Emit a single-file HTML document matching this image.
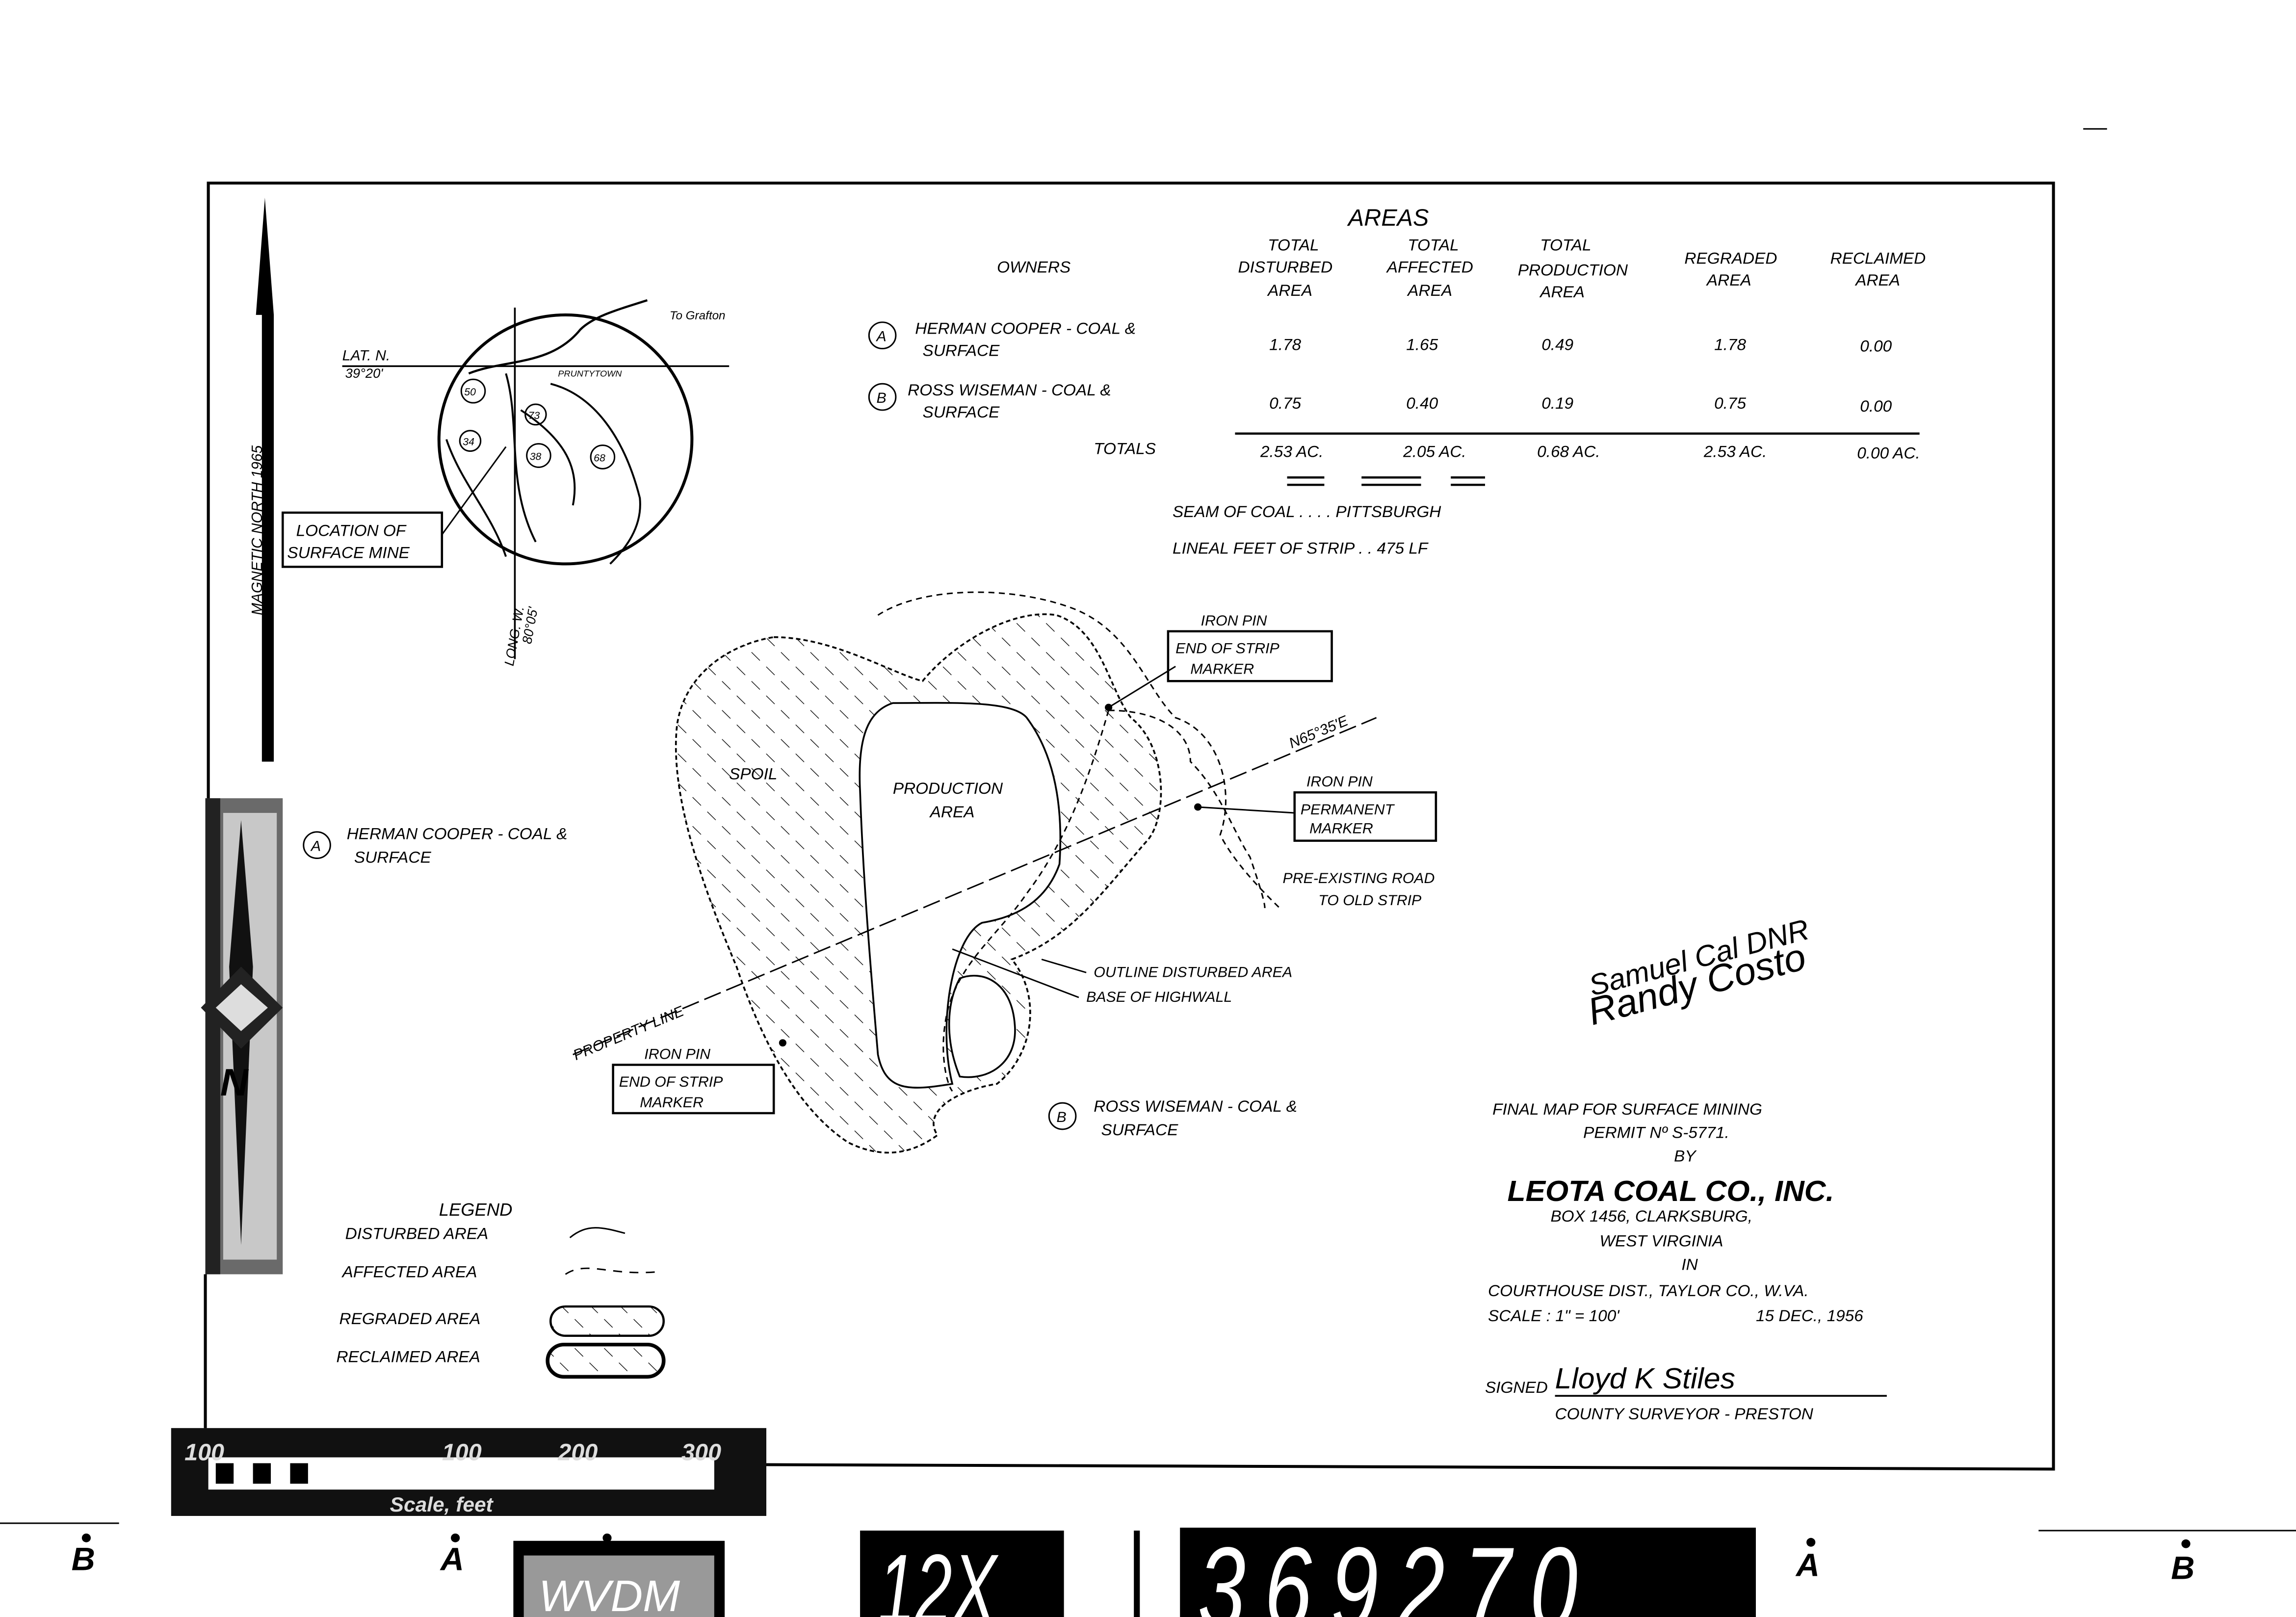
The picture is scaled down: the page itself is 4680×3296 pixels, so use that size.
<!DOCTYPE html>
<html><head><meta charset="utf-8"><style>
html,body{margin:0;padding:0;background:#fff;}
svg{display:block;}
text{font-family:"Liberation Sans",sans-serif;font-style:italic;fill:#000;}
</style></head><body>
<svg width="4680" height="3296" viewBox="0 0 1543 1104" preserveAspectRatio="none" xmlns="http://www.w3.org/2000/svg">
<defs>
<pattern id="hatch" width="14" height="14" patternUnits="userSpaceOnUse" patternTransform="rotate(-45)">
<line x1="0" y1="0" x2="0" y2="8" stroke="#000" stroke-width="0.9"/>
</pattern>
</defs>
<rect width="1543" height="1104" fill="#fff"/>
<polyline points="140,545 140,125 1380,125 1380,1003 515,1000" fill="none" stroke="#000" stroke-width="2"/>
<line x1="138" y1="870" x2="138" y2="975" stroke="#000" stroke-width="2"/>
<line x1="1400" y1="88" x2="1416" y2="88" stroke="#000" stroke-width="1"/>
<path d="M178,135 L184,215 L184,520 L176,520 L176,215 Z" fill="#000"/>
<path d="M178,135 L172,215 L178,215Z" fill="#000"/>
<text x="0" y="0" font-size="10" transform="translate(176,420) rotate(-90)">MAGNETIC NORTH 1965</text>
<rect x="138" y="545" width="52" height="325" fill="#6a6a6a"/>
<rect x="150" y="555" width="36" height="305" fill="#c8c8c8"/>
<rect x="138" y="545" width="10" height="325" fill="#222"/>
<path d="M162,560 L170,660 L162,850 L154,660Z" fill="#111"/>
<path d="M135,688 L162,660 L190,688 L162,716Z" fill="#222"/>
<path d="M145,688 L162,672 L180,688 L162,704Z" fill="#ddd"/>
<text x="148" y="748" font-size="26" font-weight="bold" font-style="normal">N</text>
<circle cx="380" cy="300" r="85" fill="none" stroke="#000" stroke-width="2"/>
<line x1="230" y1="250" x2="490" y2="250" stroke="#000" stroke-width="1.2"/>
<line x1="346" y1="210" x2="346" y2="450" stroke="#000" stroke-width="1.2"/>
<path d="M315,255 C340,245 370,250 390,225 C400,215 420,210 435,205" fill="none" stroke="#000" stroke-width="1.5"/>
<path d="M340,255 C350,290 340,330 360,370 M370,262 C400,270 420,300 430,340 C432,360 420,375 410,385 M350,280 C380,300 390,320 385,345 M300,300 C310,330 330,350 340,380" fill="none" stroke="#000" stroke-width="1.3"/>
<circle cx="318" cy="267" r="8" fill="none" stroke="#000"/><text x="312" y="270" font-size="7">50</text>
<circle cx="360" cy="283" r="7" fill="none" stroke="#000"/><text x="355" y="286" font-size="7">73</text>
<circle cx="316" cy="301" r="7" fill="none" stroke="#000"/><text x="311" y="304" font-size="7">34</text>
<circle cx="362" cy="311" r="8" fill="none" stroke="#000"/><text x="356" y="314" font-size="7">38</text>
<circle cx="405" cy="312" r="8" fill="none" stroke="#000"/><text x="399" y="315" font-size="7">68</text>
<text x="450" y="218" font-size="8">To Grafton</text>
<text x="375" y="257" font-size="6">PRUNTYTOWN</text>
<text x="230" y="246" font-size="10">LAT. N.</text>
<text x="232" y="258" font-size="9">39°20'</text>
<text x="0" y="0" font-size="9" transform="translate(345,455) rotate(-80)">LONG. W.</text>
<text x="0" y="0" font-size="9" transform="translate(357,440) rotate(-80)">80°05'</text>
<rect x="190" y="350" width="107" height="37" fill="#fff" stroke="#000" stroke-width="1.5"/>
<text x="199" y="366" font-size="11">LOCATION OF</text>
<text x="193" y="381" font-size="11">SURFACE MINE</text>
<line x1="297" y1="365" x2="340" y2="305" stroke="#000"/>
<text x="906" y="154" font-size="16">AREAS</text>
<g font-size="11">
<text x="852" y="171">TOTAL</text><text x="832" y="186">DISTURBED</text><text x="852" y="202">AREA</text>
<text x="946" y="171">TOTAL</text><text x="932" y="186">AFFECTED</text><text x="946" y="202">AREA</text>
<text x="1035" y="171">TOTAL</text><text x="1020" y="188">PRODUCTION</text><text x="1035" y="203">AREA</text>
<text x="1132" y="180">REGRADED</text><text x="1147" y="195">AREA</text>
<text x="1230" y="180">RECLAIMED</text><text x="1247" y="195">AREA</text>
<text x="670" y="186">OWNERS</text>
<text x="615" y="228">HERMAN COOPER - COAL &amp;</text><text x="620" y="243">SURFACE</text>
<text x="610" y="270">ROSS WISEMAN - COAL &amp;</text><text x="620" y="285">SURFACE</text>
<text x="853" y="239">1.78</text><text x="945" y="239">1.65</text><text x="1036" y="239">0.49</text><text x="1152" y="239">1.78</text><text x="1250" y="240">0.00</text>
<text x="853" y="279">0.75</text><text x="945" y="279">0.40</text><text x="1036" y="279">0.19</text><text x="1152" y="279">0.75</text><text x="1250" y="281">0.00</text>
<text x="735" y="310">TOTALS</text>
<text x="847" y="312">2.53 AC.</text><text x="943" y="312">2.05 AC.</text><text x="1033" y="312">0.68 AC.</text><text x="1145" y="312">2.53 AC.</text><text x="1248" y="313">0.00 AC.</text>
<text x="788" y="353">SEAM OF COAL  .  .  .  . PITTSBURGH</text>
<text x="788" y="378">LINEAL FEET OF STRIP  .  .  475 LF</text>
</g>
<circle cx="593" cy="229" r="9" fill="none" stroke="#000"/><text x="589" y="233" font-size="10">A</text>
<circle cx="593" cy="271" r="9" fill="none" stroke="#000"/><text x="589" y="275" font-size="10">B</text>
<line x1="830" y1="296" x2="1290" y2="296" stroke="#000" stroke-width="1.5"/>
<g stroke="#000" stroke-width="1.5"><line x1="865" y1="326" x2="890" y2="326"/><line x1="865" y1="331" x2="890" y2="331"/>
<line x1="915" y1="326" x2="955" y2="326"/><line x1="915" y1="331" x2="955" y2="331"/>
<line x1="975" y1="326" x2="998" y2="326"/><line x1="975" y1="331" x2="998" y2="331"/></g>
<path d="M520,435 C560,435 600,460 620,465 C640,440 680,415 710,420 C740,430 745,470 760,490 C785,510 785,560 770,575 C740,610 720,640 680,655 C700,680 695,720 670,740 C640,745 620,760 630,775 C610,790 590,790 570,780 C540,760 515,720 495,660 C470,600 450,540 455,495 C460,460 490,440 520,435Z" fill="url(#hatch)" stroke="#000" stroke-width="1.2" stroke-dasharray="3,2"/>
<path d="M600,480 C640,480 680,478 690,490 C712,520 714,560 712,590 C705,610 690,625 660,630 C640,640 630,700 640,740 C610,745 595,745 590,720 C585,660 580,600 578,540 C576,500 585,485 600,480Z" fill="#fff" stroke="#000" stroke-width="1.2"/>
<path d="M645,668 C660,662 680,670 682,700 C684,725 665,738 645,735 C635,710 636,685 645,668Z" fill="#fff" stroke="#000" stroke-width="1.2"/>
<path d="M590,420 C620,400 680,400 720,415 C760,430 770,470 790,490 C820,500 830,540 820,570 C830,590 850,610 860,620" fill="none" stroke="#000" stroke-dasharray="4,3"/>
<path d="M745,485 C780,485 800,500 800,520 C820,540 830,570 840,585 C845,600 850,615 850,620" fill="none" stroke="#000" stroke-dasharray="4,3"/>
<path d="M745,485 C735,520 720,570 690,610 C670,640 640,660 635,700 C632,720 636,740 640,745" fill="none" stroke="#000" stroke-dasharray="4,3"/>
<line x1="385" y1="720" x2="925" y2="490" stroke="#000" stroke-width="1" stroke-dasharray="12,4"/>
<text x="0" y="0" font-size="10" transform="translate(387,724) rotate(-23)">PROPERTY LINE</text>
<text x="0" y="0" font-size="10" transform="translate(868,511) rotate(-23)">N65°35'E</text>
<text x="490" y="532" font-size="11">SPOIL</text>
<text x="600" y="542" font-size="11">PRODUCTION</text>
<text x="625" y="558" font-size="11">AREA</text>
<circle cx="745" cy="483" r="2.5" fill="#000"/><circle cx="805" cy="551" r="2.5" fill="#000"/><circle cx="526" cy="712" r="2.5" fill="#000"/>
<text x="807" y="427" font-size="10">IRON PIN</text>
<rect x="785" y="431" width="110" height="34" fill="#fff" stroke="#000" stroke-width="1.5"/>
<text x="790" y="446" font-size="10">END OF STRIP</text><text x="800" y="460" font-size="10">MARKER</text>
<line x1="790" y1="455" x2="745" y2="483" stroke="#000"/>
<text x="878" y="537" font-size="10">IRON PIN</text>
<rect x="870" y="541" width="95" height="33" fill="#fff" stroke="#000" stroke-width="1.5"/>
<text x="874" y="556" font-size="10">PERMANENT</text><text x="880" y="569" font-size="10">MARKER</text>
<line x1="870" y1="555" x2="805" y2="551" stroke="#000"/>
<text x="862" y="603" font-size="10">PRE-EXISTING ROAD</text><text x="886" y="618" font-size="10">TO OLD STRIP</text>
<text x="735" y="667" font-size="10">OUTLINE DISTURBED AREA</text>
<text x="730" y="684" font-size="10">BASE OF HIGHWALL</text>
<line x1="730" y1="664" x2="700" y2="655" stroke="#000"/>
<line x1="725" y1="681" x2="640" y2="648" stroke="#000"/>
<text x="433" y="723" font-size="10">IRON PIN</text>
<rect x="412" y="727" width="108" height="33" fill="#fff" stroke="#000" stroke-width="1.5"/>
<text x="416" y="742" font-size="10">END OF STRIP</text><text x="430" y="756" font-size="10">MARKER</text>
<circle cx="213" cy="577" r="9" fill="none" stroke="#000"/><text x="209" y="581" font-size="10">A</text>
<text x="233" y="573" font-size="11">HERMAN COOPER - COAL &amp;</text><text x="238" y="589" font-size="11">SURFACE</text>
<circle cx="714" cy="762" r="9" fill="none" stroke="#000"/><text x="710" y="766" font-size="10">B</text>
<text x="735" y="759" font-size="11">ROSS WISEMAN - COAL &amp;</text><text x="740" y="775" font-size="11">SURFACE</text>
<text x="295" y="830" font-size="12">LEGEND</text>
<text x="232" y="846" font-size="11">DISTURBED AREA</text>
<path d="M383,845 C395,835 405,838 420,842" fill="none" stroke="#000"/>
<text x="230" y="872" font-size="11">AFFECTED AREA</text>
<path d="M380,870 C395,860 410,872 445,868" fill="none" stroke="#000" stroke-dasharray="6,5"/>
<text x="228" y="904" font-size="11">REGRADED AREA</text>
<rect x="370" y="892" width="76" height="20" rx="10" fill="url(#hatch)" stroke="#000" stroke-width="1.5"/>
<text x="226" y="930" font-size="11">RECLAIMED AREA</text>
<rect x="368" y="918" width="78" height="22" rx="11" fill="url(#hatch)" stroke="#000" stroke-width="2.5"/>
<g font-size="11">
<text x="1003" y="761">FINAL MAP FOR SURFACE MINING</text>
<text x="1064" y="777">PERMIT Nº S-5771.</text>
<text x="1125" y="793">BY</text>
<text x="1042" y="834">BOX 1456, CLARKSBURG,</text>
<text x="1075" y="851">WEST VIRGINIA</text>
<text x="1130" y="867">IN</text>
<text x="1000" y="885">COURTHOUSE DIST.,  TAYLOR CO., W.VA.</text>
<text x="1000" y="902">SCALE : 1" = 100'</text><text x="1180" y="902">15 DEC., 1956</text>
<text x="998" y="951">SIGNED</text>
<text x="1045" y="969">COUNTY SURVEYOR - PRESTON</text>
</g>
<text x="1013" y="820" font-size="20" font-weight="bold">LEOTA COAL CO., INC.</text>
<line x1="1045" y1="953" x2="1268" y2="953" stroke="#000" stroke-width="1.2"/>
<text x="1045" y="948" font-size="20" font-family="Liberation Serif">Lloyd K Stiles</text>
<text x="0" y="0" font-size="26" font-family="Liberation Serif" transform="translate(1070,700) rotate(-15)">Randy Costo</text>
<text x="0" y="0" font-size="20" font-family="Liberation Serif" transform="translate(1070,680) rotate(-15)">Samuel Cal DNR</text>
<rect x="115" y="975" width="400" height="60" fill="#111"/>
<rect x="140" y="995" width="340" height="22" fill="#fff"/>
<rect x="145" y="999" width="12" height="14" fill="#000"/><rect x="170" y="999" width="12" height="14" fill="#000"/><rect x="195" y="999" width="12" height="14" fill="#000"/>
<text x="124" y="997" font-size="16" font-weight="bold" font-style="normal" style="fill:#ddd">100</text>
<text x="297" y="997" font-size="16" font-weight="bold" font-style="normal" style="fill:#ddd">100</text>
<text x="375" y="997" font-size="16" font-weight="bold" font-style="normal" style="fill:#ddd">200</text>
<text x="458" y="997" font-size="16" font-weight="bold" font-style="normal" style="fill:#ddd">300</text>
<text x="262" y="1032" font-size="14" font-weight="bold" font-style="normal" style="fill:#ddd">Scale, feet</text>
<line x1="0" y1="1040" x2="80" y2="1040" stroke="#000"/>
<line x1="1370" y1="1045" x2="1543" y2="1045" stroke="#000"/>
<g font-size="22" font-weight="bold" font-style="normal">
<text x="48" y="1072">B</text><text x="296" y="1072">A</text><text x="1207" y="1076">A</text><text x="1459" y="1078">B</text>
</g>
<circle cx="58" cy="1050" r="3" fill="#000"/><circle cx="306" cy="1050" r="3" fill="#000"/><circle cx="408" cy="1050" r="3" fill="#000"/><circle cx="1217" cy="1053" r="3" fill="#000"/><circle cx="1469" cy="1054" r="3" fill="#000"/>
<rect x="345" y="1052" width="142" height="52" fill="#000"/>
<rect x="352" y="1062" width="128" height="42" fill="#999"/>
<text x="362" y="1100" font-size="30" font-style="normal" style="fill:#fff">WVDM</text>
<rect x="578" y="1045" width="137" height="59" fill="#000"/>
<text x="0" y="0" font-size="56" font-style="normal" transform="translate(590,1108) scale(0.8,1.2)" style="fill:#fff">12X</text>
<line x1="764" y1="1045" x2="764" y2="1104" stroke="#000" stroke-width="4"/>
<rect x="793" y="1043" width="387" height="61" fill="#000"/>
<text x="0" y="0" font-size="64" font-style="normal" letter-spacing="14" transform="translate(805,1112) scale(0.9,1.25)" style="fill:#fff">369270</text>
</svg>
</body></html>
